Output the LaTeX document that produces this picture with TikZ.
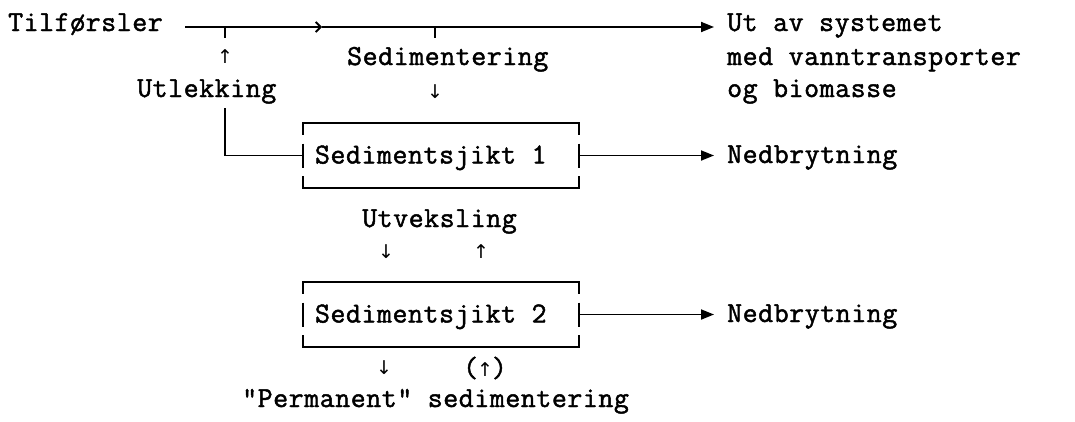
\documentclass[tikz,border=0pt]{standalone}
\usepackage{fontspec}
\setmonofont{Latin Modern Mono}[LetterSpace=2,FakeBold=1.6]
\newfontfamily\arrowfont{DejaVu Sans}
\usetikzlibrary{arrows.meta,calc}
\tikzset{
  lbl/.style={inner sep=0pt, font=\fontsize{29}{33}\selectfont\ttfamily, anchor=base west},
  sarr/.style={inner sep=0pt, font=\fontsize{19}{19}\selectfont\arrowfont},
  ln/.style={line width=1.8pt, line cap=butt},
  tip/.style={-{Triangle[length=13pt,width=10pt]}},
  midtip/.style={-{Straight Barb[length=5pt,width=10pt]}},
  gapbox/.style={inner sep=0pt, minimum width=276pt, minimum height=65pt}
}
\newcommand\drawgapbox[1]{%
  \draw[ln] ($(#1.north west)+(0,12)$) -- (#1.north west) -- (#1.north east) -- ($(#1.north east)+(0,12)$);
  \draw[ln] ($(#1.south west)+(0,-12)$) -- (#1.south west) -- (#1.south east) -- ($(#1.south east)+(0,-12)$);
  \draw[ln] ($(#1.west)+(0,-12)$) -- ($(#1.west)+(0,12)$);
  \draw[ln] ($(#1.east)+(0,-12)$) -- ($(#1.east)+(0,12)$);}
\begin{document}
\begin{tikzpicture}[x=1pt,y=-1pt]
\useasboundingbox (0,0) rectangle (1075,421);

% texts
\node[lbl] (til) at (8,31) {Tilførsler};
\node[lbl] (sed) at (347,65) {Sedimentering};
\node[lbl] (utl) at (137,97) {Utlekking};
\node[lbl] (ut1) at (727,31) {Ut av systemet};
\node[lbl] (ut2) at (727,65) {med vanntransporter};
\node[lbl] (ut3) at (727,97) {og biomasse};

% boxes
\node[gapbox] (s1) at (441,155.5) {};
\node[lbl] (s1t) at ($(s1.west)+(12,8)$) {Sedimentsjikt 1};
\node[gapbox] (s2) at (441,314.5) {};
\node[lbl] (s2t) at ($(s2.west)+(12,8)$) {Sedimentsjikt 2};
\drawgapbox{s1}
\drawgapbox{s2}

\node[lbl] (ned1) at (727,163) {Nedbrytning};
\node[lbl] (ned2) at (727,322) {Nedbrytning};
\node[lbl] (utv) at (362,227) {Utveksling};
\node[lbl] (perm) at (242,407) {"Permanent" sedimentering};

% small arrow glyphs
\node[sarr] (a1) at (225,57) {↑};
\node[sarr] (a2) at (435,92) {↓};
\node[sarr] (a3) at (386,252) {↓};
\node[sarr] (a4) at (481,252) {↑};
\node[sarr] (a5) at (384,368) {↓};
\node[lbl, anchor=center] (a6) at (485,368) {(\hspace{-1pt}{\fontsize{19}{19}\selectfont\arrowfont↑}\hspace{-1pt})};

% main line
\coordinate (a0) at (185,27);
\coordinate (m) at (322,27);
\coordinate (t1) at (225,27);
\coordinate (t2) at (435,27);
\draw[ln,midtip] (a0) -- (m);
\draw[ln,tip] (m) -- ($(ut1.west |- m)+(-13,0)$);
\draw[ln] (t1) -- ++(0,11);
\draw[ln] (t2) -- ++(0,11);

% Utlekking to box 1
\coordinate (u0) at (225,108);
\draw[ln] (u0) |- (s1.west);

% Nedbrytning
\draw[ln,tip] (s1.east) -- ($(ned1.west |- s1.east)+(-13,0)$);
\draw[ln,tip] (s2.east) -- ($(ned2.west |- s2.east)+(-13,0)$);
\end{tikzpicture}
\end{document}
